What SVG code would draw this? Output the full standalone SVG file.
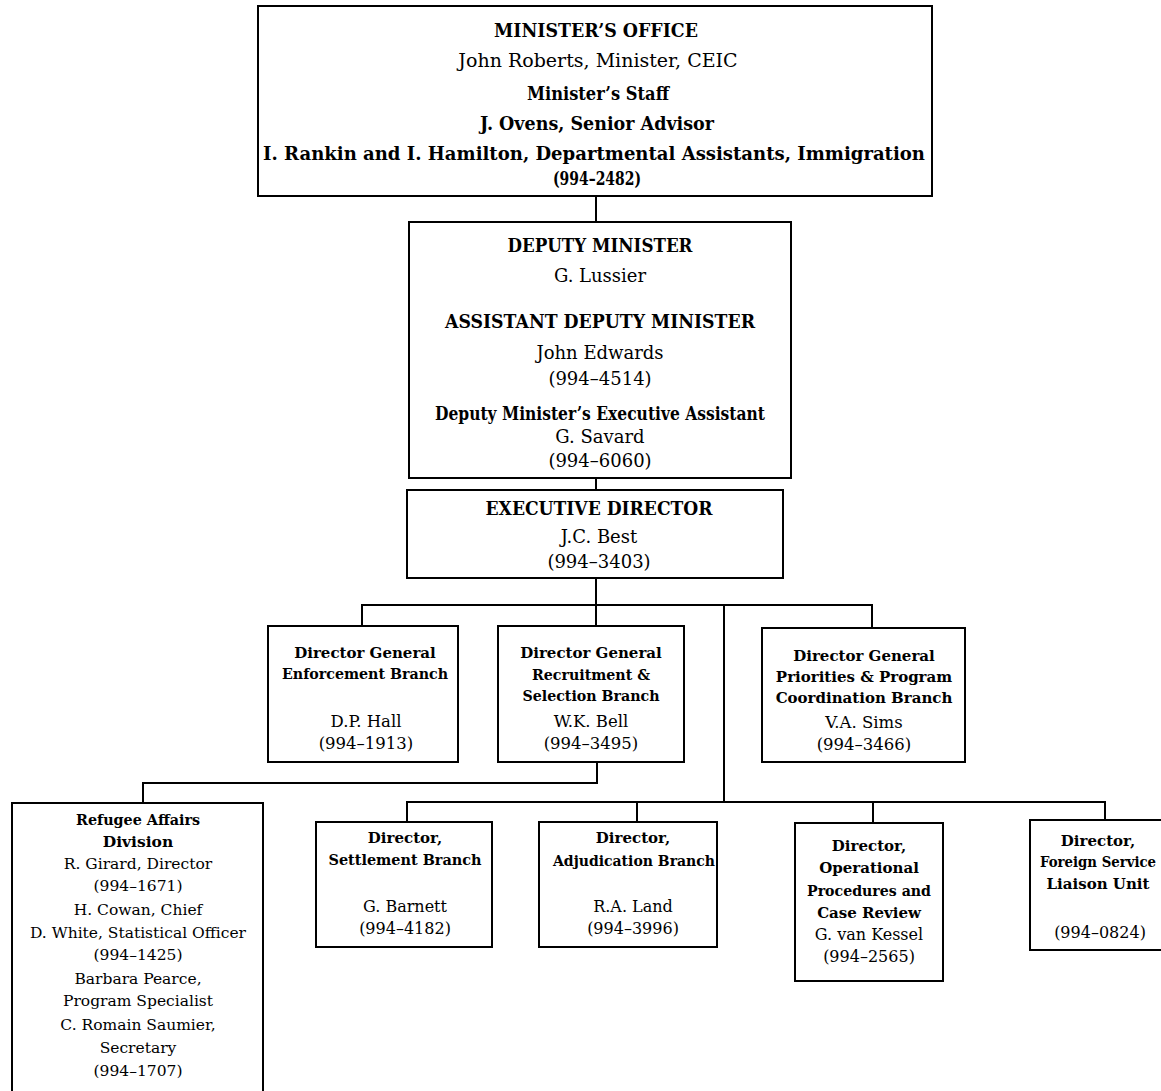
<svg xmlns="http://www.w3.org/2000/svg" width="1161" height="1091" viewBox="0 0 1161 1091">
<style>
.box{fill:#fff;stroke:#000;stroke-width:2}
.ln{fill:none;stroke:#000;stroke-width:2}
text{font-family:"DejaVu Serif","Liberation Serif",serif;fill:#000;text-anchor:middle}
.b{font-weight:bold}
.t1{font-size:19px}
.t2{font-size:18px}
.t3{font-size:15px}
.r3{font-size:16.5px}
.r5{font-size:16px}
.t4{font-size:15.5px}
</style>
<rect width="1161" height="1091" fill="#fff"/>
<g id="connectors">
<path class="ln" d="M596 197V222"/>
<path class="ln" d="M596 478V490"/>
<path class="ln" d="M596 578V626"/>
<path class="ln" d="M362 626V605H872V628"/>
<path class="ln" d="M724 605V802"/>
<path class="ln" d="M597 762V783H143V803"/>
<path class="ln" d="M407 822V802H1105V820"/>
<path class="ln" d="M637 802V822"/>
<path class="ln" d="M873 802V823"/>
</g>
<g id="minister-office">
<rect class="box" x="258" y="6" width="674" height="190"/>
<text class="t1 b" x="596" y="37" textLength="204" lengthAdjust="spacingAndGlyphs">MINISTER’S OFFICE</text>
<text class="t1" x="598" y="67">John Roberts, Minister, CEIC</text>
<text class="t1 b" x="598" y="100" textLength="142" lengthAdjust="spacingAndGlyphs">Minister’s Staff</text>
<text class="t1 b" x="597" y="130" textLength="234" lengthAdjust="spacingAndGlyphs">J. Ovens, Senior Advisor</text>
<text class="t1 b" x="594" y="160" textLength="662" lengthAdjust="spacingAndGlyphs">I. Rankin and I. Hamilton, Departmental Assistants, Immigration</text>
<text class="t1 b" x="597" y="185" textLength="88" lengthAdjust="spacingAndGlyphs">(994–2482)</text>
</g>
<g id="deputy-minister">
<rect class="box" x="409" y="222" width="382" height="256"/>
<text class="t2 b" x="600" y="252" textLength="185" lengthAdjust="spacingAndGlyphs">DEPUTY MINISTER</text>
<text class="t2" x="600" y="282">G. Lussier</text>
<text class="t2 b" x="600" y="328" textLength="310" lengthAdjust="spacingAndGlyphs">ASSISTANT DEPUTY MINISTER</text>
<text class="t2" x="600" y="359">John Edwards</text>
<text class="t2" x="600" y="385">(994–4514)</text>
<text class="t2 b" x="600" y="420" textLength="330" lengthAdjust="spacingAndGlyphs">Deputy Minister’s Executive Assistant</text>
<text class="t2" x="600" y="443">G. Savard</text>
<text class="t2" x="600" y="467">(994–6060)</text>
</g>
<g id="executive-director">
<rect class="box" x="407" y="490" width="376" height="88"/>
<text class="t2 b" x="599" y="515" textLength="227" lengthAdjust="spacingAndGlyphs">EXECUTIVE DIRECTOR</text>
<text class="t2" x="599" y="543">J.C. Best</text>
<text class="t2" x="599" y="568">(994–3403)</text>
</g>
<g id="dg-enforcement">
<rect class="box" x="268" y="626" width="190" height="136"/>
<text class="t3 b" x="365" y="658">Director General</text>
<text class="t3 b" x="365" y="679" textLength="166" lengthAdjust="spacingAndGlyphs">Enforcement Branch</text>
<text class="r3" x="366" y="727">D.P. Hall</text>
<text class="r3" x="366" y="749">(994–1913)</text>
</g>
<g id="dg-recruitment">
<rect class="box" x="498" y="626" width="186" height="136"/>
<text class="t3 b" x="591" y="658">Director General</text>
<text class="t3 b" x="591" y="680" textLength="118" lengthAdjust="spacingAndGlyphs">Recruitment &amp;</text>
<text class="t3 b" x="591" y="701" textLength="137" lengthAdjust="spacingAndGlyphs">Selection Branch</text>
<text class="r3" x="591" y="727">W.K. Bell</text>
<text class="r3" x="591" y="749">(994–3495)</text>
</g>
<g id="dg-priorities">
<rect class="box" x="762" y="628" width="203" height="134"/>
<text class="t3 b" x="864" y="661">Director General</text>
<text class="t3 b" x="864" y="682">Priorities &amp; Program</text>
<text class="t3 b" x="864" y="703">Coordination Branch</text>
<text class="r3" x="864" y="728">V.A. Sims</text>
<text class="r3" x="864" y="750">(994–3466)</text>
</g>
<g id="refugee-affairs">
<rect class="box" x="12" y="803" width="251" height="300"/>
<text class="t4 b" x="138" y="825" textLength="124" lengthAdjust="spacingAndGlyphs">Refugee Affairs</text>
<text class="t4 b" x="138" y="847">Division</text>
<text class="t4" x="138" y="869">R. Girard, Director</text>
<text class="t4" x="138" y="891">(994–1671)</text>
<text class="t4" x="138" y="915">H. Cowan, Chief</text>
<text class="t4" x="138" y="938">D. White, Statistical Officer</text>
<text class="t4" x="138" y="960">(994–1425)</text>
<text class="t4" x="138" y="984">Barbara Pearce,</text>
<text class="t4" x="138" y="1006">Program Specialist</text>
<text class="t4" x="138" y="1030">C. Romain Saumier,</text>
<text class="t4" x="138" y="1053">Secretary</text>
<text class="t4" x="138" y="1076">(994–1707)</text>
</g>
<g id="settlement">
<rect class="box" x="316" y="822" width="176" height="125"/>
<text class="t3 b" x="405" y="843">Director,</text>
<text class="t3 b" x="405" y="865" textLength="153" lengthAdjust="spacingAndGlyphs">Settlement Branch</text>
<text class="r5" x="405" y="912">G. Barnett</text>
<text class="r5" x="405" y="934">(994–4182)</text>
</g>
<g id="adjudication">
<rect class="box" x="539" y="822" width="178" height="125"/>
<text class="t3 b" x="633" y="843">Director,</text>
<text class="t3 b" x="634" y="866" textLength="162" lengthAdjust="spacingAndGlyphs">Adjudication Branch</text>
<text class="r5" x="633" y="912">R.A. Land</text>
<text class="r5" x="633" y="934">(994–3996)</text>
</g>
<g id="operational">
<rect class="box" x="795" y="823" width="148" height="158"/>
<text class="t3 b" x="869" y="851">Director,</text>
<text class="t3 b" x="869" y="873">Operational</text>
<text class="t3 b" x="869" y="896" textLength="124" lengthAdjust="spacingAndGlyphs">Procedures and</text>
<text class="t3 b" x="869" y="918">Case Review</text>
<text class="r5" x="869" y="940">G. van Kessel</text>
<text class="r5" x="869" y="962">(994–2565)</text>
</g>
<g id="foreign-service">
<rect class="box" x="1030" y="820" width="160" height="130"/>
<text class="t3 b" x="1098" y="846">Director,</text>
<text class="t3 b" x="1098" y="867" textLength="116" lengthAdjust="spacingAndGlyphs">Foreign Service</text>
<text class="t3 b" x="1098" y="889">Liaison Unit</text>
<text class="r5" x="1100" y="938">(994–0824)</text>
</g>
</svg>
